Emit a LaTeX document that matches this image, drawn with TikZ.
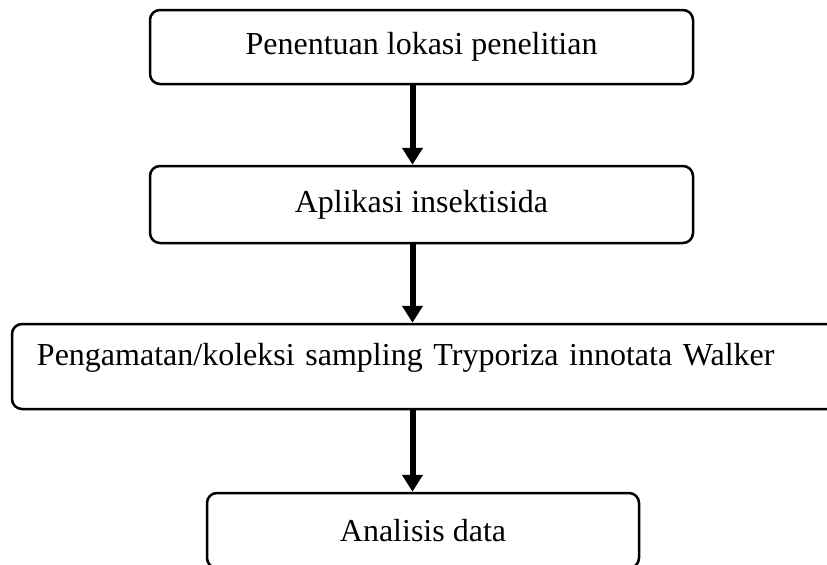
\documentclass[tikz,border=0pt]{standalone}
\usepackage{fontspec}
\setmainfont{Liberation Serif}
\usetikzlibrary{arrows.meta}

\tikzset{
  stepbox/.style={draw=black, line width=1.25pt, rounded corners=5pt, fill=white,
    font=\fontsize{16}{19}\selectfont, inner sep=0pt},
  flowarrow/.style={draw=black, line width=3pt, -{Triangle[width=10pt,length=8.5pt]}}
}

\begin{document}
\begin{tikzpicture}[x=0.5pt,y=-0.5pt]
\useasboundingbox (0,0) rectangle (827,564);
\clip (0,0) rectangle (827,564);
\coordinate (axis) at (412.5,0);
% Drawing boxes
% Box 1: lokasi
\node[stepbox, minimum width=271.5pt, minimum height=37pt] (lokasi) at (421.5,47) {Penentuan lokasi penelitian};
% Box 2: insektisida
\node[stepbox, minimum width=271.5pt, minimum height=38.5pt] (insektisida) at (421.5,204.5) {Aplikasi insektisida};
% Box 3: sampling (runs past the right edge)
\node[stepbox, minimum width=415pt, text width=390pt, align=left, inner xsep=12.5pt,
  text height=20.5pt, text depth=22pt] (sampling) at (427,366.5) {Pengamatan/koleksi sampling Tryporiza innotata Walker\hfill};
% Box 4: analisis (runs past the bottom edge)
\node[stepbox, minimum width=216pt, minimum height=37.5pt] (analisis) at (423,530.5) {Analisis data};
% Done with boxes; drawing arrows
\draw[flowarrow] (lokasi.south -| axis) -- (insektisida.north -| axis);
\draw[flowarrow] (insektisida.south -| axis) -- (sampling.north -| axis);
\draw[flowarrow] (sampling.south -| axis) -- (analisis.north -| axis);
% Done with arrows
\end{tikzpicture}
\end{document}
